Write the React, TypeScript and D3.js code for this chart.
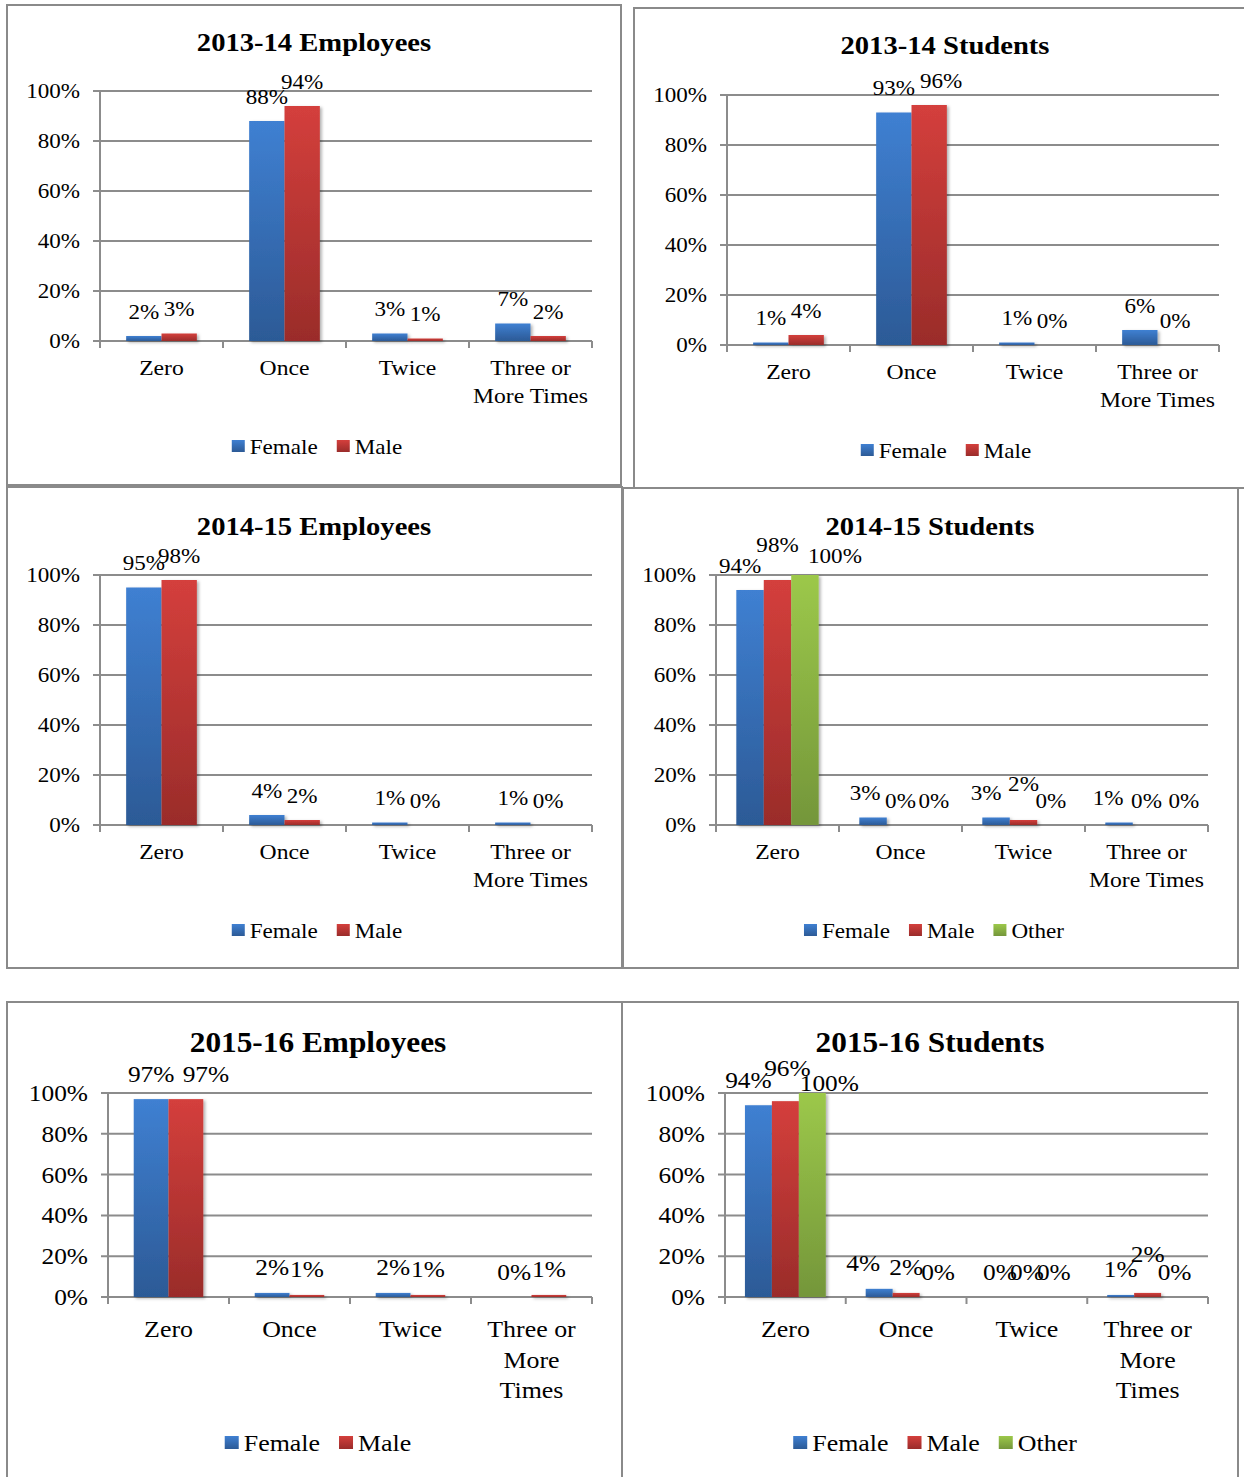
import React from 'react';
import * as d3 from 'd3';

// ---------- data ----------
const categories = ["Zero", "Once", "Twice", "Three or More Times"];
const yTicks = [0, 0.2, 0.4, 0.6, 0.8, 1];
const seriesTwo = ["Female", "Male"];
const seriesThree = ["Female", "Male", "Other"];

const emp1314Female = [0.02, 0.88, 0.03, 0.07];
const emp1314Male = [0.03, 0.94, 0.01, 0.02];
const stu1314Female = [0.01, 0.93, 0.01, 0.06];
const stu1314Male = [0.04, 0.96, 0.0, 0.0];
const emp1415Female = [0.95, 0.04, 0.01, 0.01];
const emp1415Male = [0.98, 0.02, 0.0, 0.0];
const stu1415Female = [0.94, 0.03, 0.03, 0.01];
const stu1415Male = [0.98, 0.0, 0.02, 0.0];
const stu1415Other = [1.0, 0.0, 0.0, 0.0];
const emp1516Female = [0.97, 0.02, 0.02, 0.0];
const emp1516Male = [0.97, 0.01, 0.01, 0.01];
const stu1516Female = [0.94, 0.04, 0.0, 0.01];
const stu1516Male = [0.96, 0.02, 0.0, 0.02];
const stu1516Other = [1.0, 0.0, 0.0, 0.0];

// ---------- layout / style ----------
const FONT = "'Liberation Serif', 'Times New Roman', serif";
const GRID = '#8c8c8c';
const colors: Record<string, [string, string]> = {
  Female: ['#3f80d2', '#2c5a96'],
  Male: ['#d43f3c', '#9a2c2a'],
  Other: ['#9cc84a', '#74963a'],
};

const wrapSmall: Record<string, string[]> = { "Three or More Times": ["Three or", "More Times"] };
const wrapBig: Record<string, string[]> = { "Three or More Times": ["Three or", "More", "Times"] };

const smallFonts = { title: 26, tick: 21, cat: 21.5, legend: 21, data: 21, sx: 1.1, line: 28, sw: 13 };
const bigFonts = { title: 29, tick: 23.5, cat: 24, legend: 24, data: 23.5, sx: 1.08, line: 30.5, sw: 14 };

type Panel = {
  title: string; series: string[]; values: number[][];
  box: [number, number, number, number]; plot: [number, number, number, number];
  titleY: number; titleCx: number; catY: number; legendY: number; legendCx: number;
  big: boolean; nudges?: Record<string, [number, number]>;
};

const panels: Panel[] = [
  { title: "2013-14 Employees", series: seriesTwo, values: [emp1314Female, emp1314Male],
    box: [7, 5, 621, 485], plot: [100, 592, 91, 341], titleY: 51, titleCx: 314, catY: 375, legendY: 454, legendCx: 317, big: false },
  { title: "2013-14 Students", series: seriesTwo, values: [stu1314Female, stu1314Male],
    box: [634, 8, 1252, 488], plot: [727, 1219, 95, 345], titleY: 54, titleCx: 945, catY: 379, legendY: 458, legendCx: 946, big: false,
    nudges: { "1-1": [12, 0] } },
  { title: "2014-15 Employees", series: seriesTwo, values: [emp1415Female, emp1415Male],
    box: [7, 487, 622, 968], plot: [100, 592, 575, 825], titleY: 535, titleCx: 314, catY: 859, legendY: 938, legendCx: 317, big: false },
  { title: "2014-15 Students", series: seriesThree, values: [stu1415Female, stu1415Male, stu1415Other],
    box: [623, 488, 1238, 968], plot: [716, 1208, 575, 825], titleY: 535, titleCx: 930, catY: 859, legendY: 938, legendCx: 934, big: false,
    nudges: { "0-0": [-10, 0], "1-0": [0, -11], "2-0": [30, 5], "0-1": [-8, 0], "2-1": [6, 0], "0-2": [-10, 0], "1-2": [0, -12], "0-3": [-11, 0], "2-3": [10, 0] } },
  { title: "2015-16 Employees", series: seriesTwo, values: [emp1516Female, emp1516Male],
    box: [7, 1002, 622, 1495], plot: [108, 592, 1093, 1297], titleY: 1052, titleCx: 318, catY: 1337, legendY: 1451, legendCx: 318, big: true,
    nudges: { "1-0": [20, 0] } },
  { title: "2015-16 Students", series: seriesThree, values: [stu1516Female, stu1516Male, stu1516Other],
    box: [622, 1002, 1238, 1495], plot: [725, 1208, 1093, 1297], titleY: 1052, titleCx: 930, catY: 1337, legendY: 1451, legendCx: 935, big: true,
    nudges: { "0-0": [-10, 0], "1-0": [2, -8], "2-0": [17, 15], "0-1": [-16, 0], "2-1": [5, 0], "1-3": [0, -13] } },
];

let measureCtx: CanvasRenderingContext2D | null = null;
function measure(text: string, size: number): number {
  if (!measureCtx && typeof document !== 'undefined') {
    measureCtx = document.createElement('canvas').getContext('2d');
  }
  if (measureCtx) {
    measureCtx.font = `${size}px "Liberation Serif"`;
    return measureCtx.measureText(text).width;
  }
  return text.length * size * 0.5;
}

const T = ({ x, y, size, sx = 1, anchor = 'middle', weight = 'normal', children }: any) => (
  <text transform={`translate(${x},${y}) scale(${sx},1)`} textAnchor={anchor} fontSize={size}
    fontWeight={weight} fontFamily={FONT} fill="#000">{children}</text>
);

function ChartPanel({ p }: { p: Panel }) {
  const f = p.big ? bigFonts : smallFonts;
  const [x0, x1, yT, yB] = p.plot;
  const x = d3.scaleBand<string>().domain(categories).range([x0, x1]).paddingInner(0).paddingOuter(0);
  const n = p.series.length;
  const bw = x.bandwidth() / (n + 1.48);
  const xs = d3.scaleBand<string>().domain(p.series).range([0, bw * n]);
  const y = d3.scaleLinear().domain([0, 1]).range([yB, yT]);
  const fmt = d3.format('.0%');
  const wrap = p.big ? wrapBig : wrapSmall;

  const items = p.series.map((s) => ({ s, w: f.sw + 5 + measure(s, f.legend) * f.sx }));
  const gap = 19;
  const total = d3.sum(items, (d) => d.w) + gap * (items.length - 1);
  let lx = p.legendCx - total / 2;
  const legendItems = items.map((it) => { const o = { ...it, x: lx }; lx += it.w + gap; return o; });

  const [bx0, by0, bx1, by1] = p.box;
  return (
    <g>
      <rect x={bx0} y={by0} width={bx1 - bx0} height={by1 - by0} fill="#fff" stroke="#8a8a8a" strokeWidth={2} />
      <T x={p.titleCx} y={p.titleY} size={f.title} sx={f.sx} weight="bold">{p.title}</T>
      {yTicks.map((t) => (
        <g key={t}>
          <line x1={x0 - 7} x2={x1} y1={y(t)} y2={y(t)} stroke={GRID} strokeWidth={2} />
          <T x={x0 - 20} y={y(t) + f.tick * 0.34} size={f.tick} sx={f.sx} anchor="end">{fmt(t)}</T>
        </g>
      ))}
      <line x1={x0} x2={x0} y1={yT} y2={yB} stroke={GRID} strokeWidth={2} />
      {d3.range(categories.length + 1).map((i) => {
        const xx = x0 + i * x.step();
        return <line key={i} x1={xx} x2={xx} y1={yB} y2={yB + 7} stroke={GRID} strokeWidth={2} />;
      })}
      {p.series.map((s, si) => (
        <g key={s} filter="url(#shadow)">
          {categories.map((c, ci) => {
            const v = p.values[si][ci];
            const bx = (x(c) as number) + (x.bandwidth() - bw * n) / 2 + (xs(s) as number);
            return <rect key={c} x={bx} y={y(v)} width={bw} height={yB - y(v)} fill={`url(#grad-${s})`} />;
          })}
        </g>
      ))}
      {p.series.map((s, si) => categories.map((c, ci) => {
        const v = p.values[si][ci];
        const bx = (x(c) as number) + (x.bandwidth() - bw * n) / 2 + (xs(s) as number) + bw / 2;
        const nd = (p.nudges && p.nudges[`${si}-${ci}`]) || [0, 0];
        return <T key={`${s}-${c}`} x={bx + nd[0]} y={y(v) - 17.5 + nd[1]} size={f.data} sx={f.sx}>{fmt(v)}</T>;
      }))}
      {categories.map((c) => {
        const lines = wrap[c] || [c];
        const cx = (x(c) as number) + x.bandwidth() / 2;
        return lines.map((ln, li) => (
          <T key={`${c}-${li}`} x={cx} y={p.catY + li * f.line} size={f.cat} sx={f.sx}>{ln}</T>
        ));
      })}
      {legendItems.map((it) => (
        <g key={it.s}>
          <rect x={it.x} y={p.legendY - f.sw - 1} width={f.sw} height={f.sw - 1} fill={`url(#grad-${it.s})`} />
          <T x={it.x + f.sw + 5} y={p.legendY} size={f.legend} sx={f.sx} anchor="start">{it.s}</T>
        </g>
      ))}
    </g>
  );
}

export default function App() {
  return (
    <svg width={1244} height={1477} style={{ position: 'absolute', left: 0, top: 0, background: '#fff' }}>
      <defs>
        {Object.entries(colors).map(([k, [top, bot]]) => (
          <linearGradient key={k} id={`grad-${k}`} x1="0" y1="0" x2="0" y2="1">
            <stop offset="0%" stopColor={top} />
            <stop offset="100%" stopColor={bot} />
          </linearGradient>
        ))}
        <filter id="shadow" x="-10%" y="-10%" width="130%" height="130%">
          <feDropShadow dx="2" dy="1.5" stdDeviation="1.5" floodColor="#000" floodOpacity="0.3" />
        </filter>
      </defs>
      <rect x={0} y={0} width={1244} height={1477} fill="#fff" />
      {panels.map((p, i) => <ChartPanel key={i} p={p} />)}
    </svg>
  );
}
